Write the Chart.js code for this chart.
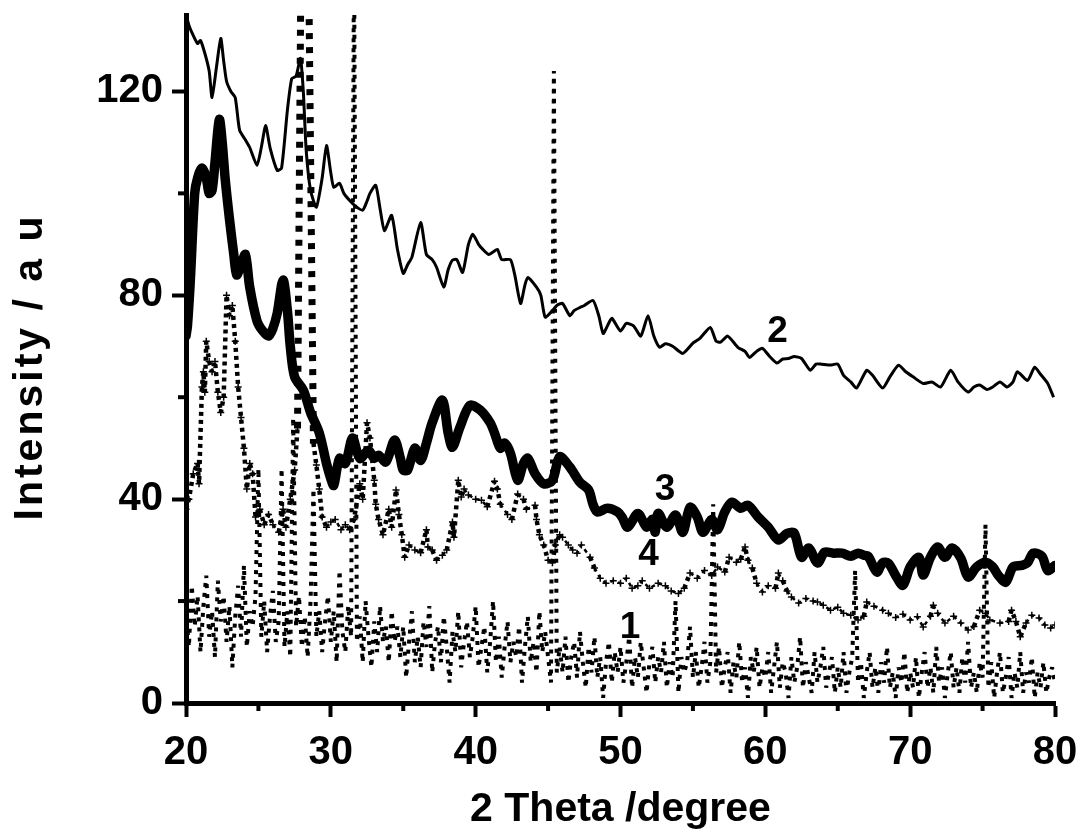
<!DOCTYPE html>
<html>
<head>
<meta charset="utf-8">
<script src="https://cdn.jsdelivr.net/npm/chart.js@4.4.1/dist/chart.umd.min.js"></script>
<style>
  html, body { margin: 0; padding: 0; background: #fff; }
  #wrap { width: 1086px; height: 837px; }
</style>
</head>
<body>
<div id="wrap"><canvas id="c" width="1086" height="837"></canvas></div>
<script>
// ---------- DATA ----------
const xTickLabels = [20, 30, 40, 50, 60, 70, 80];
const yTickLabels = [0, 40, 80, 120];
const xMinorTicks = [25, 35, 45, 55, 65, 75];
const yMinorTicks = [20, 60, 100];

// Curve 1: dotted, sampled on a 0.2 degree grid starting at 20
const curve1Start = 20;
const curve1Step = 0.2;
const curve1Y = [
  18,11,23,15,21,10,19,25,13,18,9,24,16,21,12,19,7,17,23,13,27,11,18,15,21,
  46,13,20,10,17,22,12,16,46,11,18,9,56,15,21,11,17,9,20,42,13,18,10,16,21,
  12,18,8,26,14,10,19,13,150,12,17,8,20,13,7,16,10,19,12,15,8,18,12,15,9,
  15,5,12,18,8,13,7,16,11,19,6,12,15,8,17,11,4,14,10,18,7,12,16,9,13,
  19,7,11,15,6,12,20,8,13,5,11,16,8,12,9,15,4,11,17,8,12,6,18,10,14,
  9,4,124,6,11,6,13,4,9,12,5,14,8,3,11,6,13,5,9,1,8,12,4,10,6,
  11,4,8,13,3,9,5,12,7,2,8,11,4,9,6,12,3,8,5,20,2,9,6,8,15,
  5,10,3,7,12,4,8,39,6,11,3,7,10,2,8,5,12,4,7,1,9,6,11,3,7,
  5,10,2,7,12,3,8,6,1,9,4,7,13,3,8,5,2,10,4,7,11,3,6,9,2,
  7,3,10,2,6,9,26,4,8,1,6,10,3,7,2,8,4,11,3,6,1,7,4,10,2,
  6,3,9,1,6,10,3,7,2,11,4,7,1,6,10,3,7,2,9,4,12,3,6,2,8,
  5,35,3,8,1,6,10,2,5,9,1,6,3,10,2,6,4,9,1,6,3,8,2,5,7,
  4
];

// Curve 2: thin solid
const curve2X = [20.0,20.2,20.4,20.8,21.0,21.3,21.6,21.8,22.1,22.4,22.6,22.8,23.1,23.4,23.7,24.1,24.4,24.9,25.2,25.5,25.8,26.3,26.6,27.0,27.3,27.6,27.9,28.1,28.3,28.6,29.0,29.4,29.7,30.0,30.2,30.6,30.9,31.3,31.7,32.2,32.5,32.7,33.1,33.4,33.7,34.2,34.6,35.0,35.3,35.6,36.2,36.6,37.0,37.3,37.8,38.1,38.4,38.7,39.1,39.5,39.8,40.2,40.5,40.9,41.2,41.5,41.8,42.4,42.7,43.1,43.4,43.6,44.2,44.5,44.8,45.3,45.6,46.0,46.5,46.8,47.2,47.5,48.1,48.5,48.8,49.1,49.4,50.0,50.4,50.9,51.4,51.9,52.3,52.7,53.1,53.6,54.3,55.0,55.5,56.2,56.6,56.9,57.4,58.1,58.6,58.9,59.4,59.8,60.3,60.8,61.2,61.6,62.0,62.5,63.1,63.5,63.8,64.5,65.0,65.4,65.9,66.3,67.0,67.4,68.1,68.6,69.2,69.7,70.2,70.9,71.5,72.1,72.8,73.3,74.0,74.4,74.8,75.3,75.7,76.2,76.7,77.1,77.4,78.1,78.6,79.0,79.5,79.9];
const curve2Y = [135,133,131.6,129.4,130,127.5,124,118.8,124.7,130.4,126,122,120,118.8,112.4,110.5,109,105.5,109,113.3,109,104.5,105,116.3,122.5,123,126.5,120,108.4,100.6,97.3,103,109.4,104,101.2,102,100,98.6,97.5,96.7,98.5,100,101.6,97,92.7,95.7,89,84.3,86,87.5,94.3,88,87,85.5,81.6,85,86.9,87,84.5,90,92,90,89,88,88.5,89,87,87,84,78.4,82,83.5,81.6,80,75.7,77,78,78.4,76,77,77.6,78,79,76,72.5,74,75.5,73,74.5,74,72,76,72,69.8,70.5,70,68.6,70.6,71.6,73.7,71,70.8,72,69.8,69,67.8,69,69.6,68,66.7,67.5,67.6,68,67.6,65.3,66.5,66.5,66.3,66.5,64.3,63,61.8,65.3,64.3,61.8,64,66.3,65,64,62.7,63,62,65.3,63,61,62,62.4,61.5,62,63,62,63,65,63.3,65.9,64.5,62.7,60];

// Curve 3: thick solid
const curve3X = [20.0,20.1,20.3,20.6,20.8,21.1,21.4,21.6,21.8,22.0,22.3,22.5,22.7,23.0,23.3,23.5,23.8,24.1,24.4,24.9,25.3,25.7,26.0,26.3,26.7,27.0,27.2,27.5,28.1,28.6,29.2,29.7,30.0,30.2,30.6,31.0,31.5,32.0,32.6,33.0,33.3,33.8,34.4,34.8,35.0,35.3,35.8,36.2,36.6,37.0,37.7,38.1,38.4,38.9,39.6,40.3,41.0,41.3,41.7,42.0,42.4,42.9,43.3,43.6,44.1,44.7,45.3,45.8,46.5,47.2,47.8,48.1,48.4,49.1,49.8,50.1,50.5,51.2,51.8,52.2,52.4,52.6,53.2,53.8,54.3,54.8,55.3,55.7,56.3,56.7,57.2,57.7,58.3,58.8,59.5,60.2,60.9,61.5,62.0,62.5,63.0,63.6,64.1,64.7,65.3,65.9,66.4,66.8,67.1,67.7,68.1,68.5,69.0,69.5,70.0,70.6,70.9,71.4,71.9,72.4,72.9,73.5,74.0,74.6,75.2,75.7,76.1,76.6,77.1,77.7,78.1,78.5,79.1,79.5,80.0];
const curve3Y = [72,74,83,100,103,105,103,100,100.6,106,114.5,110,103,95,88,84,86,88,81.6,75,73,72,73.5,76.5,83,77,70,64,61.4,57,53,47,44,42.7,48,47,52,48,49.6,48,48.6,47.3,51.6,48,45.7,45.7,50,47.6,51,55,59.4,53,50.2,54,58.4,57.5,55,53,50,51,49,43.7,47,48,45,43,43.7,48.3,46.3,43.3,41.8,39,37.5,38.2,37.5,36.5,34.5,37.2,34.5,36,33.5,37.2,34.5,36.9,33.5,38.4,36.5,33.5,36,34,37.5,39.4,38.2,38.8,36.5,34.5,32,33.3,33.3,28.6,30.4,27.5,29.6,29.4,29.4,28.8,29.4,29,28.8,25.7,27.5,27.4,25,23.1,26.7,28.6,25.1,28.6,30.6,28.6,30.4,28.4,24.7,26.7,27.6,26.7,25,23.7,26.7,27,27.5,29.4,28.8,26,27];

// Curve 4: dashed with crosses
const curve4X = [20.0,20.2,20.5,20.8,20.9,21.1,21.2,21.3,21.4,21.6,21.8,22.0,22.2,22.4,22.6,22.8,23.0,23.2,23.4,23.6,23.8,24.0,24.2,24.4,24.6,24.8,25.1,25.4,25.7,26.0,26.4,26.7,26.9,27.2,27.5,27.7,27.95,28.2,28.45,28.8,29.0,29.2,29.4,29.7,30.0,30.3,30.7,31.0,31.3,31.6,32.0,32.2,32.5,32.7,33.0,33.1,33.3,33.6,34.0,34.2,34.5,34.7,34.9,35.1,35.4,35.8,36.2,36.6,36.7,37.0,37.3,37.7,38.0,38.4,38.5,38.8,39.0,39.2,39.5,40.0,40.4,40.8,41.3,41.5,41.7,42.2,42.5,42.9,43.3,43.5,44.1,44.2,44.4,44.7,45.0,45.3,45.5,45.8,46.0,46.4,46.7,47.0,47.3,47.9,48.2,48.6,49.0,49.5,50.0,50.4,50.8,51.2,51.5,52.0,52.6,53.1,53.5,54.0,54.4,54.8,55.3,55.8,56.3,56.7,57.2,57.5,58.0,58.3,58.6,58.8,59.1,59.4,59.8,60.2,60.7,60.9,61.2,61.5,61.8,62.3,62.8,63.3,63.6,64.0,64.5,65.0,65.4,65.9,66.4,66.8,67.0,67.5,68.1,68.5,69.0,69.5,70.0,70.5,70.9,71.4,71.6,71.9,72.4,73.0,73.5,74.0,74.4,74.8,75.2,75.5,76.2,76.8,77.0,77.3,77.6,78.0,78.4,78.9,79.3,79.7,80.0];
const curve4Y = [38,40,45,47,43,62,65,61,71,67,65,67,61,57,60,80,76,78,71,62,56,50,42,47,45,36.5,38,35,37,35,33.5,38,34.5,40,45.7,54,150,160,150,51,46.7,42,36.5,34.5,35.5,36,34,35,34,36,43,40,55,52,43.7,39,36,33,38,34.5,41.8,37,33,28.6,31,30,29.5,34,30.6,30,28,29,30,35.5,32.5,43.7,40.4,42,40.8,40,39.8,38.5,43.5,42,39,37,36,41,40,38,38.8,36,33,31,28,27.5,31,33,32.5,31,30,29.4,31,28.6,26.5,24.5,23.5,24,23.5,24.5,22.5,23,24,22.5,23.5,23,22,21.5,22.5,25.5,24.5,26,25,26.7,25.7,28.6,27.6,28.2,30.6,28,26.5,23.5,21.8,23,22.5,25.5,24,22,20.8,19.6,20.5,20,19.8,19.2,18.2,18.8,17.6,17.2,16.3,17,19.8,19,18.2,17.6,16.8,17.4,16.3,16.9,14.9,17,19.2,17.6,15.7,17,15.7,14.3,15,18.2,17.6,16.3,15.7,16,18.2,16,13,15.7,17.2,16.7,15.3,14.7,15.3];

// Curve number labels (data coordinates)
const curveLabelText = ['1', '2', '3', '4'];
const curveLabelX = [50.66, 60.85, 53.08, 51.94];
const curveLabelY = [14.7, 72.9, 41.9, 29.0];

const xTitle = '2 Theta /degree';
const yTitle = 'Intensity / a u';

// ---------- BUILD ----------
const FONT = "'Liberation Sans', Arial, Helvetica, sans-serif";
const pts1 = curve1Y.map((y, i) => ({ x: curve1Start + i * curve1Step, y }));
const pts2 = curve2X.map((x, i) => ({ x, y: curve2Y[i] }));
const pts3 = curve3X.map((x, i) => ({ x, y: curve3Y[i] }));
const pts4 = curve4X.map((x, i) => ({ x, y: curve4Y[i] }));

const extras = {
  id: 'extras',
  afterDatasetsDraw(chart) {
    const ctx = chart.ctx;
    const xs = chart.scales.x, ys = chart.scales.y;
    const area = chart.chartArea;
    ctx.save();
    // minor ticks
    ctx.strokeStyle = '#000';
    ctx.lineWidth = 4;
    xMinorTicks.forEach(v => {
      const px = xs.getPixelForValue(v);
      ctx.beginPath(); ctx.moveTo(px, area.bottom); ctx.lineTo(px, area.bottom + 8); ctx.stroke();
    });
    yMinorTicks.forEach(v => {
      const py = ys.getPixelForValue(v);
      ctx.beginPath(); ctx.moveTo(area.left, py); ctx.lineTo(area.left - 8, py); ctx.stroke();
    });
    // curve labels
    ctx.fillStyle = '#000';
    ctx.font = 'bold 37px ' + FONT;
    ctx.textAlign = 'center';
    ctx.textBaseline = 'middle';
    curveLabelText.forEach((t, i) => {
      ctx.fillText(t, xs.getPixelForValue(curveLabelX[i]), ys.getPixelForValue(curveLabelY[i]));
    });
    // y axis title (letter-spaced)
    ctx.translate(31, (area.top + area.bottom) / 2 + 8);
    ctx.rotate(-Math.PI / 2);
    ctx.font = 'bold 41px ' + FONT;
    if ('letterSpacing' in ctx) ctx.letterSpacing = '3px';
    ctx.fillText(yTitle, 0, 0);
    ctx.restore();
  }
};

new Chart(document.getElementById('c'), {
  type: 'line',
  data: {
    datasets: [
      { label: '1', data: pts1, borderColor: '#000', borderWidth: 4, borderDash: [4, 6],
        borderCapStyle: 'butt', borderJoinStyle: 'bevel', pointRadius: 0, tension: 0, fill: false },
      { label: '4', data: pts4, borderColor: '#000', borderWidth: 2.5, borderDash: [4, 4],
        borderCapStyle: 'butt', borderJoinStyle: 'bevel',
        pointRadius: 3.5, pointStyle: 'cross', pointBorderWidth: 1.5,
        pointBorderColor: '#000', tension: 0, fill: false,
        segment: {
          borderWidth: c => (Math.max(c.p0.parsed.y, c.p1.parsed.y) > 100 ? 7 :
            (Math.abs(c.p1.y - c.p0.y) > Math.abs(c.p1.x - c.p0.x) * 2 ? 4.5 : 2.5)),
          borderDash: c => (Math.max(c.p0.parsed.y, c.p1.parsed.y) > 100 ? [6, 8] : [4, 4])
        } },
      { label: '3', data: pts3, borderColor: '#000', borderWidth: 9.5, pointRadius: 0,
        tension: 0.3, fill: false, borderJoinStyle: 'round', borderCapStyle: 'round' },
      { label: '2', data: pts2, borderColor: '#000', borderWidth: 3, pointRadius: 0,
        tension: 0.2, fill: false, borderJoinStyle: 'round' }
    ]
  },
  options: {
    responsive: false,
    animation: false,
    devicePixelRatio: 1,
    layout: { padding: { left: 0, right: 31, top: 15, bottom: 0 } },
    plugins: { legend: { display: false }, tooltip: { enabled: false } },
    scales: {
      x: {
        type: 'linear', min: 20, max: 80,
        afterFit(s) { s.height = 134; s.paddingLeft = 0; s.paddingRight = 0; },
        afterBuildTicks(s) { s.ticks = xTickLabels.map(v => ({ value: v })); },
        border: { display: true, color: '#000', width: 5 },
        grid: { drawOnChartArea: false, drawTicks: true, tickLength: 14, tickWidth: 4, tickColor: '#000' },
        ticks: { color: '#000', font: { family: FONT, size: 40, weight: 'bold' }, padding: 12, maxRotation: 0 },
        title: { display: true, text: xTitle, color: '#000',
                 font: { family: FONT, size: 41, weight: 'bold' }, padding: { top: 0, bottom: 3 } }
      },
      y: {
        type: 'linear', min: 0, max: 135,
        afterFit(s) { s.width = 186; s.paddingTop = 0; s.paddingBottom = 0; },
        afterBuildTicks(s) { s.ticks = yTickLabels.map(v => ({ value: v })); },
        border: { display: true, color: '#000', width: 5 },
        grid: { drawOnChartArea: false, drawTicks: true, tickLength: 14, tickWidth: 4, tickColor: '#000' },
        ticks: { color: '#000', font: { family: FONT, size: 40, weight: 'bold' }, padding: 9 },
        title: { display: false }
      }
    }
  },
  plugins: [extras]
});
</script>
</body>
</html>
